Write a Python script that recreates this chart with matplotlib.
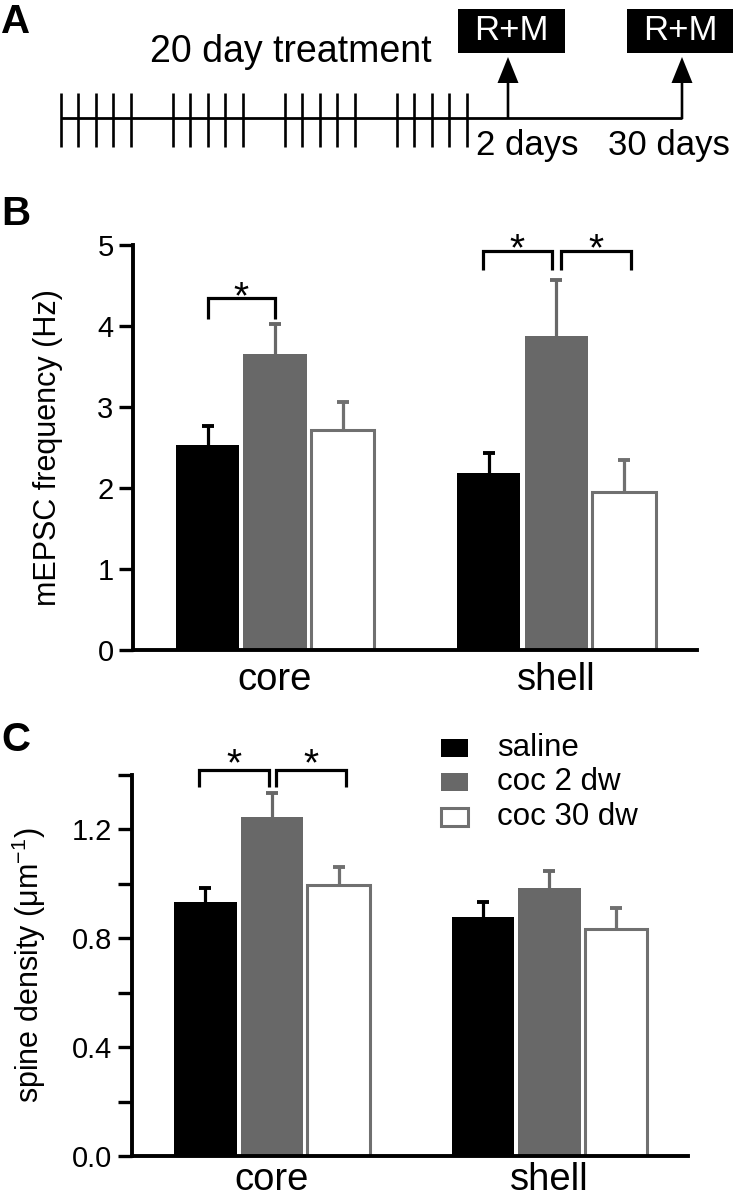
import matplotlib
matplotlib.use('Agg')
import matplotlib.pyplot as plt
from matplotlib.patches import Rectangle, FancyArrow
import numpy as np

plt.rcParams['font.family'] = ['Liberation Sans', 'DejaVu Sans']
plt.rcParams['mathtext.default'] = 'regular'

# ---------------- data ----------------
regions = ['core', 'shell']
series = ['saline', 'coc 2 dw', 'coc 30 dw']

mepsc_saline = [2.53, 2.18]
mepsc_coc2 = [3.66, 3.88]
mepsc_coc30 = [2.72, 1.95]
mepsc_sem_saline = [0.23, 0.25]
mepsc_sem_coc2 = [0.37, 0.69]
mepsc_sem_coc30 = [0.34, 0.40]

spine_saline = [0.935, 0.880]
spine_coc2 = [1.247, 0.985]
spine_coc30 = [0.994, 0.833]
spine_sem_saline = [0.048, 0.055]
spine_sem_coc2 = [0.086, 0.061]
spine_sem_coc30 = [0.068, 0.078]

# significance brackets: (region index, bar i, bar j)
mepsc_sig = [(0, 0, 1), (1, 0, 1), (1, 1, 2)]
mepsc_sig_top = [4.34, 4.93, 4.93]
mepsc_sig_leg = [4.09, 4.69, 4.69]
mepsc_sig_star = [4.49, 5.08, 5.08]
spine_sig = [(0, 0, 1), (0, 1, 2)]
spine_sig_top = [1.418, 1.418]
spine_sig_leg = [1.356, 1.356]
spine_sig_star = [1.48, 1.48]

mepsc_yticks = [0, 1, 2, 3, 4, 5]
spine_yticks = [0.0, 0.4, 0.8, 1.2]
spine_yminor = [0.2, 0.6, 1.0, 1.4]

treatment_weeks = 4
injections_per_week = 5
timeline_labels = ['2 days', '30 days']
box_label = 'R+M'

# ---------------- style ----------------
W, H, DPI = 735, 1199, 100
fig = plt.figure(figsize=(W / DPI, H / DPI), dpi=DPI)

C_SAL = '#000000'
C_COC2 = '#686868'
C_COC30 = '#707070'


def ax_rect(left, right, top, bottom):
    return [left / W, 1 - bottom / H, (right - left) / W, (bottom - top) / H]


# overlay axes in pixel coordinates (panel A + letters + legend)
ov = fig.add_axes([0, 0, 1, 1], zorder=5)
ov.set_xlim(0, W)
ov.set_ylim(H, 0)
ov.axis('off')
ov.patch.set_alpha(0)

# panel letters
for letter, yb in zip(['A', 'B', 'C'], [33, 225, 751]):
    ov.text(1, yb, letter, fontsize=29, fontweight='bold', va='baseline', ha='left')

# ---------------- panel A ----------------
line_y = 118
x0, week_step, day_step = 61, 112, 17.5
for w in range(treatment_weeks):
    for d in range(injections_per_week):
        xx = x0 + w * week_step + d * day_step
        ov.plot([xx, xx], [93, 147], color='k', lw=1.9, solid_capstyle='butt')
arrow_x = [508, 682]
ov.plot([x0, arrow_x[-1]], [line_y, line_y], color='k', lw=2.0, solid_capstyle='butt')
for ax_x in arrow_x:
    ov.add_patch(FancyArrow(ax_x, line_y + 1, 0, -(line_y + 1 - 57), width=2.6,
                            head_width=21, head_length=26, length_includes_head=True,
                            color='k', lw=0))
ov.text(150, 62, '20 day treatment', fontsize=27, va='baseline', ha='left')
for (bl, br), lab_x, lab in zip([(458, 565), (627, 733)], [476, 608], timeline_labels):
    ov.add_patch(Rectangle((bl, 9), br - bl, 44, color='k', lw=0))
    ov.text((bl + br) / 2, 31, box_label, color='white', fontsize=25,
            ha='center', va='center')
    ov.text(lab_x, 155, lab, fontsize=25, va='baseline', ha='left')


# ---------------- bar helper ----------------
XLIM = (-0.505, 1.5)
OFFSET = 0.24
WIDTH = 0.225


def style_axes(ax, xpad):
    for s in ['top', 'right']:
        ax.spines[s].set_visible(False)
    for s in ['left', 'bottom']:
        ax.spines[s].set_linewidth(2.8)
    ax.tick_params(axis='y', which='both', length=10, width=2.4, pad=4,
                   labelsize=21, direction='out')
    ax.tick_params(axis='x', length=0, pad=xpad, labelsize=27.5)
    ax.set_xlim(*XLIM)
    ax.set_xticks(np.arange(len(regions)))
    ax.set_xticklabels(regions)


def draw_bars(ax, means, sems, capsize_pt=8):
    colors = [C_SAL, C_COC2, C_COC30]
    x = np.arange(len(regions))
    for k, (m, e, c) in enumerate(zip(means, sems, colors)):
        xs = x + (k - 1) * OFFSET
        if k == 2:
            ax.bar(xs, m, WIDTH, facecolor='white', edgecolor=c, linewidth=2.2, zorder=2)
        else:
            ax.bar(xs, m, WIDTH, facecolor=c, edgecolor=c, linewidth=0, zorder=2)
        tops = np.array(m) + np.array(e)
        ax.vlines(xs, m, tops, color=c, lw=2.3, zorder=1)
        ax.plot(xs, tops, ls='none', marker='_', ms=capsize_pt, mew=2.8, color=c, zorder=1)


def draw_sig(ax, sig, tops, legs, stars, dxs):
    for (g, i, j), yt, yl, ys, (d1, d2) in zip(sig, tops, legs, stars, dxs):
        x1 = g + (i - 1) * OFFSET + d1
        x2 = g + (j - 1) * OFFSET + d2
        ax.plot([x1, x1, x2, x2], [yl, yt, yt, yl], color='k', lw=2.3,
                clip_on=False, solid_joinstyle='miter', solid_capstyle='butt')
        ax.annotate('*', xy=((x1 + x2) / 2, ys), xytext=(0, -16),
                    textcoords='offset points', ha='center', va='baseline',
                    fontsize=28, annotation_clip=False)


# ---------------- panel B ----------------
axB = fig.add_axes(ax_rect(133, 697, 245, 650))
style_axes(axB, 9)
draw_bars(axB, [mepsc_saline, mepsc_coc2, mepsc_coc30],
          [mepsc_sem_saline, mepsc_sem_coc2, mepsc_sem_coc30])
axB.set_ylim(0, 5)
axB.set_yticks(mepsc_yticks)
axB.set_yticklabels([str(t) for t in mepsc_yticks])
axB.set_ylabel('mEPSC frequency (Hz)', fontsize=22)
axB.yaxis.set_label_coords(-0.124, 0.5)
draw_sig(axB, mepsc_sig, mepsc_sig_top, mepsc_sig_leg, mepsc_sig_star,
         [(0.0, 0.0), (-0.022, -0.016), (0.016, 0.024)])

# ---------------- panel C ----------------
axC = fig.add_axes(ax_rect(132, 688, 775, 1156))
style_axes(axC, 4)
draw_bars(axC, [spine_saline, spine_coc2, spine_coc30],
          [spine_sem_saline, spine_sem_coc2, spine_sem_coc30])
axC.set_ylim(0, 1.4)
axC.set_yticks(spine_yticks)
axC.set_yticklabels(['%.1f' % t for t in spine_yticks])
axC.set_yticks(spine_yminor, minor=True)
axC.set_ylabel('spine density (μm$^{-1}$)', fontsize=22)
axC.yaxis.set_label_coords(-0.151, 0.5)
draw_sig(axC, spine_sig, spine_sig_top, spine_sig_leg, spine_sig_star,
         [(-0.025, -0.011), (0.014, 0.025)])

# legend (panel C)
leg_y = [738, 772, 807]
leg_face = [C_SAL, C_COC2, 'white']
leg_edge = [C_SAL, C_COC2, C_COC30]
for name, yy, fc, ec in zip(series, leg_y, leg_face, leg_edge):
    lw = 2.2 if fc == 'white' else 0
    ov.add_patch(Rectangle((441, yy + 1), 27, 18, facecolor=fc, edgecolor=ec, lw=lw))
    ov.text(497, yy + 18, name, fontsize=22.5, va='baseline', ha='left')

fig.savefig('out.png', dpi=DPI)
